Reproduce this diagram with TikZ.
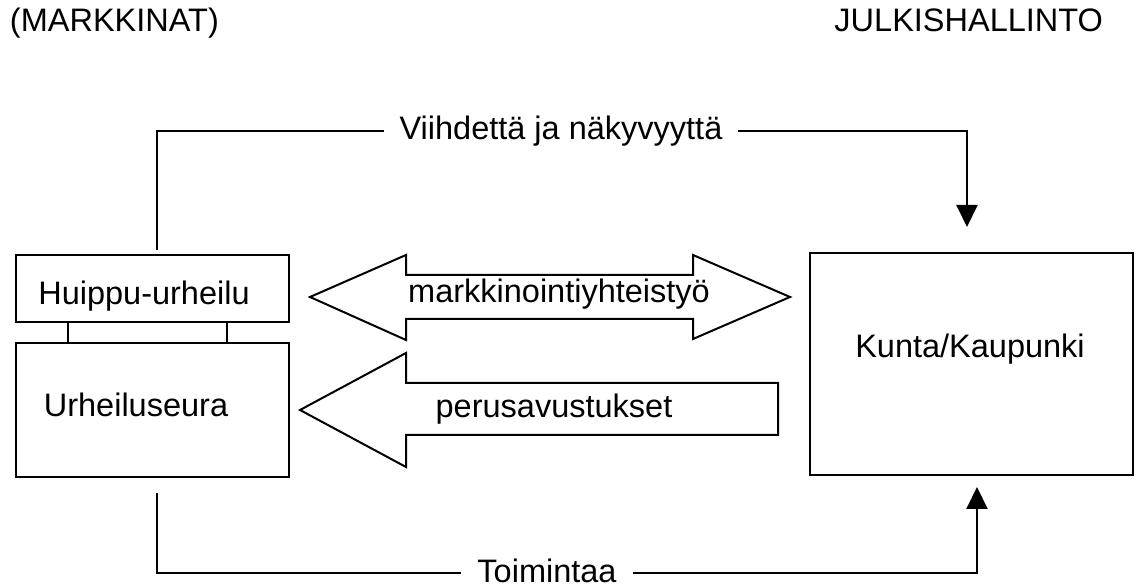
\documentclass[tikz,border=0pt]{standalone}
\usepackage{fontspec}
\setmainfont{Liberation Sans}
\usetikzlibrary{arrows.meta,calc}

\begin{document}
\begin{tikzpicture}[x=0.5pt,y=0.5pt,font=\fontsize{16.25pt}{19pt}\selectfont]
    \tikzstyle{every node}+=[inner sep=0pt, outer sep=0pt]
    \tikzstyle{box}=[draw=black, line width=1pt]
    \tikzstyle{txt}=[anchor=base]
    \tikzstyle{gaptxt}=[anchor=base, fill=white, inner xsep=8pt]
    \tikzstyle{flow}=[draw=black, line width=1pt]
    \tikzstyle{tip}=[-{Triangle[length=11pt,width=10.5pt]}]
    \useasboundingbox (0,0) rectangle (1137,-587);
    % headings
    \node [anchor=base west] (markkinat) at (10,-32) {(MARKKINAT)};
    \node [anchor=base east] (julkis) at (1103,-32) {JULKISHALLINTO};
    % boxes
    \node [box, minimum width=136.5pt, minimum height=33.5pt] (huippu) at (152.5,-288.5) {};
    \node [txt] (huippuText) at (144,-305) {Huippu-urheilu};
    \node [box, minimum width=136.5pt, minimum height=67pt] (seura) at (152.5,-410) {};
    \node [txt] (seuraText) at (136,-417) {Urheiluseura};
    \node [box, minimum width=161.5pt, minimum height=111pt] (kunta) at (971.5,-364) {};
    \node [txt] (kuntaText) at (970,-358) {Kunta/Kaupunki};
    \draw [flow] ($(huippu.south west)+(52,0)$) -- ($(seura.north west)+(52,0)$);
    \draw [flow] ($(huippu.south west)+(211,0)$) -- ($(seura.north west)+(211,0)$);
    % block arrows
    \draw [flow] (310,-297) -- (406,-255) -- (406,-275) -- (693,-275) -- (693,-255)
        -- (790,-297) -- (693,-339) -- (693,-319) -- (406,-319) -- (406,-340) -- cycle;
    \node [txt] (markkinointi) at (559,-303) {markkinointiyhteistyö};
    \draw [flow] (300,-410) -- (406,-353) -- (406,-383) -- (778,-383) -- (778,-435)
        -- (406,-435) -- (406,-467) -- cycle;
    \node [txt] (avustukset) at (554,-418) {perusavustukset};
    % connectors
    \draw [flow, tip] ($(huippu.north)+(4.5,5)$) |- ($(kunta.north)+(-4.5,122)$)
        -- ($(kunta.north)+(-4.5,26)$);
    \node [gaptxt] (viihde) at (561,-140) {Viihdettä ja näkyvyyttä};
    \draw [flow, tip] ($(seura.south)+(4.5,-16)$) |- ($(kunta.south)+(5.5,-98)$)
        -- ($(kunta.south)+(5.5,-12)$);
    \node [gaptxt] (toiminta) at (547,-583) {Toimintaa};
\end{tikzpicture}
\end{document}
